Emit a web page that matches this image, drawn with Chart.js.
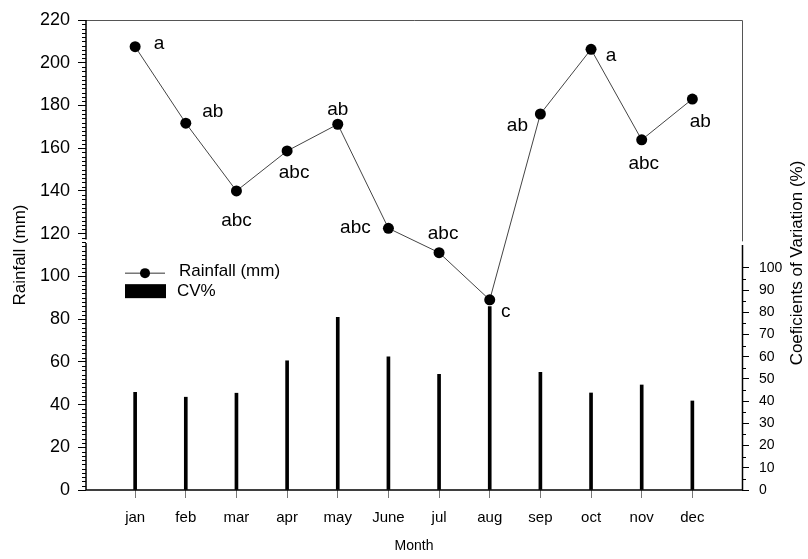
<!DOCTYPE html>
<html lang="en">
<head>
  <meta charset="UTF-8">
  <title>Monthly Rainfall and CV%</title>
  <script src="https://cdn.jsdelivr.net/npm/chart.js"></script>
  <style>
    html, body { margin: 0; padding: 0; background: #fff; }
  </style>
</head>
<body>
  <canvas id="rainChart" width="808" height="559"></canvas>

  <script>
    // Data
    const months = ['jan', 'feb', 'mar', 'apr', 'may', 'June', 'jul', 'aug', 'sep', 'oct', 'nov', 'dec'];
    const rainfall = [207.5, 171.7, 140.0, 158.7, 171.2, 122.5, 111.1, 89.0, 176.0, 206.3, 163.9, 183.0];
    const cvPercent = [44.0, 41.8, 43.6, 58.2, 77.8, 60.0, 52.1, 82.6, 53.0, 43.7, 47.3, 40.1];
    const letters = ['a', 'ab', 'abc', 'abc', 'ab', 'abc', 'abc', 'c', 'ab', 'a', 'abc', 'ab'];
    const rainTicks = [0, 20, 40, 60, 80, 100, 120, 140, 160, 180, 200, 220];
    const cvTicks = [0, 10, 20, 30, 40, 50, 60, 70, 80, 90, 100];

    // where each letter sits relative to its point (px)
    const letterOffsets = [[24, -3], [27, -11], [0, 30], [7, 22], [0, -14], [-33, -1],
                           [4, -19], [16, 12], [-23, 12], [20, 6], [2, 24], [8, 23]];

    const FONT = "'Liberation Sans', Arial, sans-serif";

    // axes lines with breaks, minor ticks, legend, letters, right title
    const extras = {
      id: 'extras',
      afterDraw(chart) {
        const ctx = chart.ctx;
        const a = chart.chartArea;
        const y = chart.scales.y, y1 = chart.scales.y1;
        ctx.save();

        // frame (top + upper right), grey
        ctx.strokeStyle = '#555';
        ctx.lineWidth = 1;
        ctx.beginPath();
        ctx.moveTo(a.left, a.top + 0.5);
        ctx.lineTo(a.right + 0.5, a.top + 0.5);
        ctx.lineTo(a.right + 0.5, y1.getPixelForValue(112));
        ctx.stroke();

        // black axes
        ctx.strokeStyle = '#000';
        ctx.lineWidth = 1.5;
        ctx.beginPath();
        ctx.moveTo(a.left, a.bottom);
        ctx.lineTo(a.right + 1, a.bottom);
        ctx.moveTo(a.left, a.bottom);
        ctx.lineTo(a.left, y.getPixelForValue(115.6));
        ctx.moveTo(a.left, y.getPixelForValue(117.2));
        ctx.lineTo(a.left, a.top);
        ctx.moveTo(a.right + 0.5, a.bottom);
        ctx.lineTo(a.right + 0.5, y1.getPixelForValue(110.4));
        ctx.stroke();

        // minor ticks
        ctx.lineWidth = 1;
        ctx.beginPath();
        for (let v = 2; v < 220; v += 2) {
          if (v % 20 === 0) continue;
          const py = Math.round(y.getPixelForValue(v)) + 0.5;
          ctx.moveTo(a.left - 4, py);
          ctx.lineTo(a.left, py);
        }
        for (let v = 5; v < 100; v += 10) {
          const py = Math.round(y1.getPixelForValue(v)) + 0.5;
          ctx.moveTo(a.right, py);
          ctx.lineTo(a.right + 4, py);
        }
        ctx.stroke();

        // legend
        const lx = a.left + 39, ly = y.getPixelForValue(101.5);
        ctx.strokeStyle = '#333';
        ctx.beginPath();
        ctx.moveTo(lx, ly);
        ctx.lineTo(lx + 40, ly);
        ctx.stroke();
        ctx.fillStyle = '#000';
        ctx.beginPath();
        ctx.arc(lx + 20, ly, 5, 0, Math.PI * 2);
        ctx.fill();
        ctx.fillRect(lx, ly + 11, 41, 14);
        ctx.font = '17px ' + FONT;
        ctx.textAlign = 'left';
        ctx.textBaseline = 'middle';
        ctx.fillText('Rainfall (mm)', lx + 54, ly - 2);
        ctx.fillText('CV%', lx + 52, ly + 18);

        // significance letters
        const pts = chart.getDatasetMeta(0).data;
        ctx.font = '19px ' + FONT;
        ctx.textAlign = 'center';
        pts.forEach((p, i) => {
          ctx.fillText(letters[i], p.x + letterOffsets[i][0], p.y + letterOffsets[i][1]);
        });

        // right axis title, reading upwards
        ctx.font = '17px ' + FONT;
        ctx.translate(797, (a.top + a.bottom) / 2 + 8);
        ctx.rotate(-Math.PI / 2);
        ctx.fillText('Coeficients of Variation (%)', 0, 0);
        ctx.restore();
      }
    };

    const ctx = document.getElementById('rainChart').getContext('2d');
    const rainChart = new Chart(ctx, {
      data: {
        datasets: [
          {
            type: 'line',
            label: 'Rainfall (mm)',
            data: months.map((m, i) => ({ x: i, y: rainfall[i] })),
            yAxisID: 'y',
            borderColor: '#444',
            borderWidth: 1,
            pointRadius: 5.5,
            pointBackgroundColor: '#000',
            pointBorderColor: '#000',
            pointBorderWidth: 0,
            tension: 0,
            order: 0
          },
          {
            type: 'bar',
            label: 'CV%',
            data: months.map((m, i) => ({ x: i, y: cvPercent[i] })),
            yAxisID: 'y1',
            backgroundColor: '#000',
            barThickness: 3,
            order: 1
          }
        ]
      },
      options: {
        responsive: false,
        animation: false,
        layout: { padding: { top: 20 } },
        plugins: { legend: { display: false }, tooltip: { enabled: false } },
        scales: {
          x: {
            type: 'linear',
            offset: false,
            min: -0.97,
            max: 11.98,
            afterBuildTicks: s => { s.ticks = months.map((m, i) => ({ value: i })); },
            afterFit: s => { s.height = 69; },
            border: { display: false },
            grid: { offset: false, drawOnChartArea: false, tickLength: 8, tickColor: '#777' },
            ticks: {
              padding: 11,
              color: '#000',
              font: { family: FONT, size: 15 },
              callback: v => months[v]
            },
            title: {
              display: true,
              text: 'Month',
              color: '#000',
              font: { family: FONT, size: 14 },
              padding: { top: 0, bottom: 4 }
            }
          },
          y: {
            position: 'left',
            min: 0,
            max: 220,
            afterBuildTicks: s => { s.ticks = rainTicks.map(v => ({ value: v })); },
            afterFit: s => { s.width = 86; },
            border: { display: false },
            grid: { drawOnChartArea: false, tickLength: 8, tickColor: '#000' },
            ticks: { padding: 8, color: '#000', font: { family: FONT, size: 18 } },
            title: {
              display: true,
              text: 'Rainfall (mm)',
              color: '#000',
              font: { family: FONT, size: 17 },
              padding: { top: 10, bottom: 0 }
            }
          },
          y1: {
            position: 'right',
            min: 0,
            max: 211.7,
            afterBuildTicks: s => { s.ticks = cvTicks.map(v => ({ value: v })); },
            afterFit: s => { s.width = 66; },
            border: { display: false },
            grid: { drawOnChartArea: false, tickLength: 7, tickColor: '#000' },
            ticks: { padding: 10, color: '#000', font: { family: FONT, size: 14 } }
          }
        }
      },
      plugins: [extras]
    });
  </script>
</body>
</html>
